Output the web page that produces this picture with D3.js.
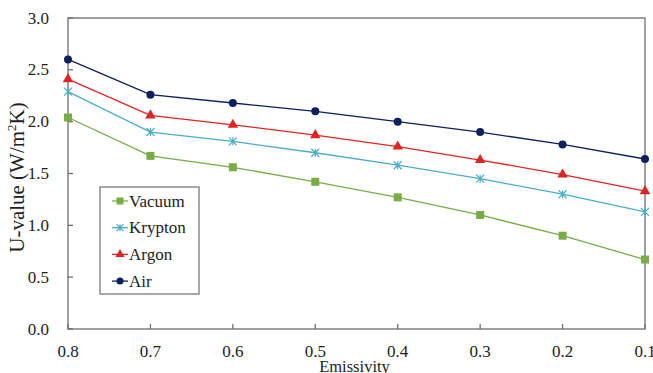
<!DOCTYPE html>
<html>
<head>
<script src="https://cdn.jsdelivr.net/npm/d3@7"></script>
</head>
<body style="margin:0">
<svg id="chart" width="653" height="373" font-family="Liberation Serif"></svg>
<script>
const emissivity = [0.8, 0.7, 0.6, 0.5, 0.4, 0.3, 0.2, 0.1]
const vacuum = [2.04, 1.67, 1.56, 1.42, 1.27, 1.10, 0.90, 0.67]
const krypton = [2.29, 1.90, 1.81, 1.70, 1.58, 1.45, 1.30, 1.13]
const argon = [2.41, 2.06, 1.97, 1.87, 1.76, 1.63, 1.49, 1.33]
const air = [2.60, 2.26, 2.18, 2.10, 2.00, 1.90, 1.78, 1.64]
const yTicks = [0, 0.5, 1.0, 1.5, 2.0, 2.5, 3.0]

const series = [
  { name: 'Vacuum', values: vacuum, color: '#77ac47', marker: 'square' },
  { name: 'Krypton', values: krypton, color: '#4bacc6', marker: 'star' },
  { name: 'Argon', values: argon, color: '#e02424', marker: 'triangle' },
  { name: 'Air', values: air, color: '#0d1f5c', marker: 'circle' }
]

const width = 653
const height = 373
const margin = { top: 18, right: 8, bottom: 44, left: 68 }
const innerWidth = width - margin.left - margin.right
const innerHeight = height - margin.top - margin.bottom
const serif = 'Liberation Serif'

// scales map straight to page pixels so all texts can sit at the svg root
const x = d3.scaleLinear().domain([0.8, 0.1]).range([margin.left, margin.left + innerWidth])
const y = d3.scaleLinear().domain([0, 3]).range([margin.top + innerHeight, margin.top])

const svg = d3.select('#chart')

const axisColor = '#6e6e6e'
const textColor = '#222'

// plot frame
svg.append('rect')
  .attr('x', margin.left)
  .attr('y', margin.top)
  .attr('width', innerWidth)
  .attr('height', innerHeight)
  .attr('fill', 'none')
  .attr('stroke', axisColor)
  .attr('stroke-width', 1.3)

// ticks point inward
svg.selectAll('.ytick')
  .data(yTicks)
  .join('line')
  .attr('x1', margin.left)
  .attr('x2', margin.left + 5)
  .attr('y1', (d) => y(d))
  .attr('y2', (d) => y(d))
  .attr('stroke', axisColor)
  .attr('stroke-width', 1.3)

svg.selectAll('.xtick')
  .data(emissivity)
  .join('line')
  .attr('x1', (d) => x(d))
  .attr('x2', (d) => x(d))
  .attr('y1', margin.top + innerHeight)
  .attr('y2', margin.top + innerHeight - 5)
  .attr('stroke', axisColor)
  .attr('stroke-width', 1.3)

const drawMarker = (g, type, color, size) => {
  if (type === 'square') {
    g.append('rect')
      .attr('x', -size / 2)
      .attr('y', -size / 2)
      .attr('width', size)
      .attr('height', size)
      .attr('fill', color)
  } else if (type === 'circle') {
    g.append('circle')
      .attr('r', size / 2)
      .attr('fill', color)
  } else if (type === 'triangle') {
    g.append('path')
      .attr('d', d3.symbol().type(d3.symbolTriangle).size(size * size * 0.75)())
      .attr('fill', color)
  } else if (type === 'star') {
    const r = size / 2
    g.append('path')
      .attr('d', `M${-r},${-r}L${r},${r}M${-r},${r}L${r},${-r}M0,${-r}L0,${r}`)
      .attr('stroke', color)
      .attr('stroke-width', 1.2)
      .attr('fill', 'none')
  }
}

const line = d3.line()
  .x((d, i) => x(emissivity[i]))
  .y((d) => y(d))

series.forEach((s) => {
  svg.append('path')
    .datum(s.values)
    .attr('d', line)
    .attr('fill', 'none')
    .attr('stroke', s.color)
    .attr('stroke-width', 1.3)

  s.values.forEach((v, i) => {
    const g = svg.append('g')
      .attr('transform', `translate(${x(emissivity[i])},${y(v)})`)
    drawMarker(g, s.marker, s.color, 8)
  })
})

// legend box and swatches
const legendX = 100
const legendY = 187
const rowGap = 26.7
svg.append('rect')
  .attr('x', legendX)
  .attr('y', legendY)
  .attr('width', 99)
  .attr('height', 107)
  .attr('fill', '#fff')
  .attr('stroke', axisColor)
  .attr('stroke-width', 1.2)

series.forEach((s, i) => {
  const cy = legendY + 14 + i * rowGap
  svg.append('line')
    .attr('x1', legendX + 12)
    .attr('x2', legendX + 28)
    .attr('y1', cy)
    .attr('y2', cy)
    .attr('stroke', s.color)
    .attr('stroke-width', 1.3)
  const m = svg.append('g').attr('transform', `translate(${legendX + 20},${cy})`)
  drawMarker(m, s.marker, s.color, 7)
})

// all texts as direct children of the svg
svg.selectAll('.ylabel')
  .data(yTicks)
  .join('text')
  .attr('x', margin.left - 19)
  .attr('y', (d) => y(d) + 5.5)
  .attr('text-anchor', 'end')
  .attr('font-family', serif)
  .attr('font-size', 17)
  .attr('fill', textColor)
  .text((d) => d.toFixed(1))

svg.selectAll('.xlabel')
  .data(emissivity)
  .join('text')
  .attr('x', (d) => x(d))
  .attr('y', margin.top + innerHeight + 28)
  .attr('text-anchor', 'middle')
  .attr('font-family', serif)
  .attr('font-size', 17)
  .attr('fill', textColor)
  .text((d) => d.toFixed(1))

series.forEach((s, i) => {
  svg.append('text')
    .attr('x', legendX + 29)
    .attr('y', legendY + 14 + i * rowGap + 5.5)
    .attr('font-family', serif)
    .attr('font-size', 17)
    .attr('fill', textColor)
    .text(s.name)
})

svg.append('text')
  .attr('x', margin.left + innerWidth * 0.5 - 2)
  .attr('y', height - 1)
  .attr('text-anchor', 'middle')
  .attr('font-family', serif)
  .attr('font-size', 16.5)
  .attr('fill', textColor)
  .text('Emissivity')

const yTitle = svg.append('text')
  .attr('transform', `translate(24,${margin.top + innerHeight / 2 + 4}) rotate(-90)`)
  .attr('text-anchor', 'middle')
  .attr('font-family', serif)
  .attr('font-size', 21)
  .attr('fill', textColor)
yTitle.append('tspan').text('U-value (W/m')
yTitle.append('tspan').text('2').attr('font-size', 13).attr('dy', -8)
yTitle.append('tspan').text('K)').attr('dy', 8)
</script>
</body>
</html>
